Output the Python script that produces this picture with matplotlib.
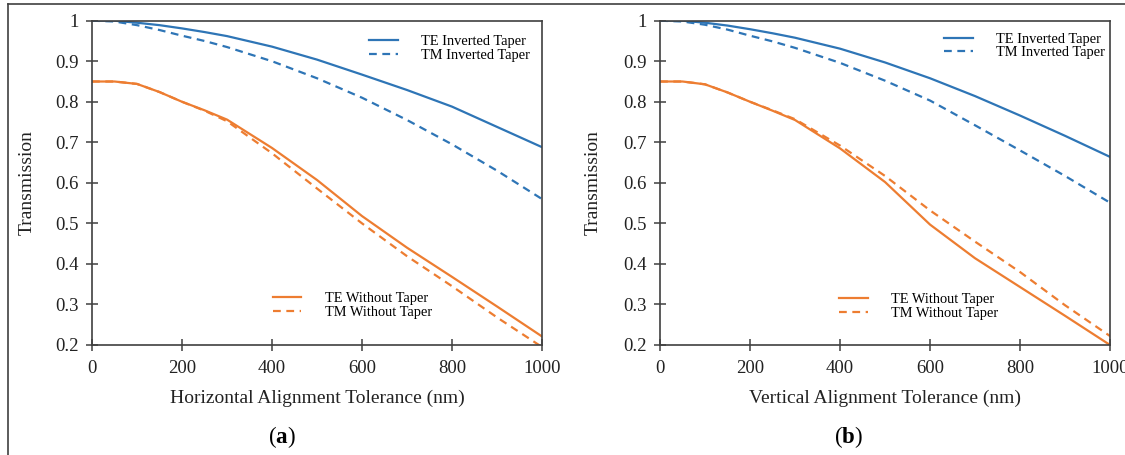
import numpy as np
import matplotlib.pyplot as plt
import matplotlib.lines as mlines

plt.rcParams['font.family'] = ['Liberation Serif', 'DejaVu Serif']
plt.rcParams['mathtext.fontset'] = 'custom'
plt.rcParams['mathtext.rm'] = 'Liberation Serif'
plt.rcParams['mathtext.bf'] = 'Liberation Serif:bold'

# --- datos ---
x = [0, 50, 100, 150, 200, 250, 300, 400, 500, 600, 700, 800, 900, 1000]

# (a) horizontal
te_inv_a = [1.0, 1.0, 0.995, 0.989, 0.981, 0.972, 0.962, 0.936, 0.904, 0.867, 0.829, 0.788, 0.738, 0.688]
tm_inv_a = [1.0, 0.998, 0.989, 0.977, 0.963, 0.950, 0.935, 0.900, 0.858, 0.810, 0.755, 0.695, 0.630, 0.560]
te_wo_a = [0.85, 0.85, 0.844, 0.824, 0.80, 0.779, 0.756, 0.686, 0.607, 0.518, 0.440, 0.368, 0.295, 0.221]
tm_wo_a = [0.85, 0.85, 0.844, 0.824, 0.80, 0.778, 0.752, 0.673, 0.586, 0.500, 0.419, 0.345, 0.268, 0.195]

# (b) vertical
te_inv_b = [1.0, 1.0, 0.995, 0.988, 0.979, 0.969, 0.958, 0.931, 0.897, 0.858, 0.814, 0.766, 0.716, 0.664]
tm_inv_b = [1.0, 0.998, 0.990, 0.978, 0.963, 0.949, 0.933, 0.896, 0.852, 0.803, 0.742, 0.680, 0.617, 0.551]
te_wo_b = [0.85, 0.85, 0.843, 0.823, 0.80, 0.778, 0.755, 0.685, 0.602, 0.497, 0.414, 0.343, 0.272, 0.200]
tm_wo_b = [0.85, 0.85, 0.843, 0.823, 0.80, 0.779, 0.757, 0.692, 0.617, 0.532, 0.455, 0.380, 0.298, 0.222]

xlabels = ['Horizontal Alignment Tolerance (nm)', 'Vertical Alignment Tolerance (nm)']
letras = ['a', 'b']

azul = '#2E75B6'
naranja = '#ED7D31'
gris = '#404040'

fig = plt.figure(figsize=(11.25, 4.55), dpi=100)

# marco de la figura
fig.add_artist(mlines.Line2D([0.007, 1.0], [0.9905, 0.9905], color=gris, lw=1.2))
fig.add_artist(mlines.Line2D([0.007, 0.007], [0.0, 0.9905], color=gris, lw=1.2))

datos = [(te_inv_a, tm_inv_a, te_wo_a, tm_wo_a), (te_inv_b, tm_inv_b, te_wo_b, tm_wo_b)]
lefts = [0.0818, 0.5867]
leg_sup = [(0.795, 0.915), (0.809, 0.922)]
leg_inf = [(0.578, 0.122), (0.575, 0.119)]
letra_x = [0.2507, 0.7538]
ylab_x = [-0.126, -0.13]

for i in range(2):
    ax = fig.add_axes([lefts[i], 0.2418, 0.4, 0.7127])
    te_inv, tm_inv, te_wo, tm_wo = datos[i]
    l1, = ax.plot(x, te_inv, color=azul, lw=1.6, label='TE Inverted Taper')
    l2, = ax.plot(x, tm_inv, color=azul, lw=1.6, ls=(0, (3.5, 2.5)), label='TM Inverted Taper')
    l3, = ax.plot(x, te_wo, color=naranja, lw=1.6, label='TE Without Taper')
    l4, = ax.plot(x, tm_wo, color=naranja, lw=1.6, ls=(0, (3.5, 2.5)), label='TM Without Taper')

    ax.set_xlim(0, 1000)
    ax.set_ylim(0.2, 1.0)
    ax.set_xticks(np.arange(0, 1001, 200))
    ax.set_yticks(np.arange(0.2, 1.01, 0.1))
    ax.set_yticklabels(['0.2', '0.3', '0.4', '0.5', '0.6', '0.7', '0.8', '0.9', '1'])
    ax.tick_params(direction='inout', length=9, width=1.1, colors=gris, labelcolor='#222222',
                   labelsize=13.5)
    ax.tick_params(axis='x', pad=6)
    ax.tick_params(axis='y', pad=5)
    for s in ax.spines.values():
        s.set_color(gris)
        s.set_linewidth(1.2)
    ax.set_xlabel(xlabels[i], fontsize=14, color='#222222')
    ax.set_ylabel('Transmission', fontsize=14, color='#222222')
    ax.xaxis.set_label_coords(0.5, -0.139)
    ax.yaxis.set_label_coords(ylab_x[i], 0.5)

    leg1 = ax.legend(handles=[l1, l2], loc='center', bbox_to_anchor=leg_sup[i],
                     frameon=False, fontsize=10.4, handlelength=2.0, handletextpad=1.6,
                     labelspacing=0.05, borderpad=0)
    ax.add_artist(leg1)
    ax.legend(handles=[l3, l4], loc='center', bbox_to_anchor=leg_inf[i],
              frameon=False, fontsize=10.4, handlelength=2.0, handletextpad=1.6,
              labelspacing=0.05, borderpad=0)

    fig.text(letra_x[i], 1 - 437 / 455, r'($\mathbf{' + letras[i] + r'}$)',
             ha='center', va='center', fontsize=16.5)

fig.savefig('out.png', dpi=100)
